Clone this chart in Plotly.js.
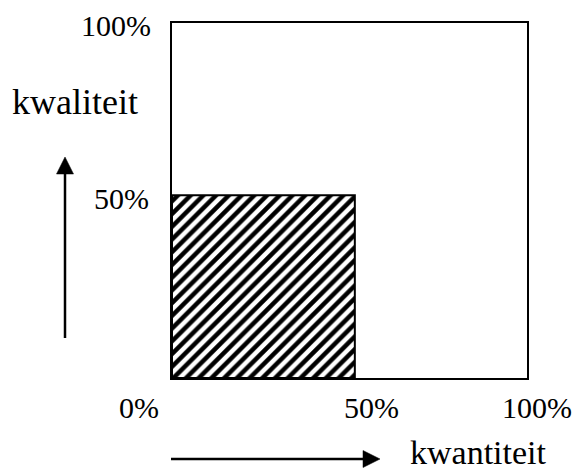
<!DOCTYPE html>
<html>
<head>
<meta charset="utf-8">
<script src="https://cdn.plot.ly/plotly-3.0.1.min.js"></script>
<style>
  html, body { margin: 0; padding: 0; background: #ffffff; }
  #chart { width: 578px; height: 473px; }
</style>
</head>
<body>
<div id="chart"></div>
<script>
// Data
const quantityShare = [51.5];   // hatched block width (kwantiteit, % of box)
const qualityShare  = [51.5];   // hatched block height (kwaliteit, % of box)
const xTickText = ['0%', '50%', '100%'];
const yTickText = ['50%', '100%'];
const xAxisLabel = 'kwantiteit';
const yAxisLabel = 'kwaliteit';

const FONT = 'Liberation Serif';
const numFont = { family: FONT, size: 30, color: '#000' };
const wordFont = { family: FONT, size: 36, color: '#000' };
const bottomWordFont = { family: FONT, size: 34, color: '#000' };

// box in pixels: left 172, right 527, top 23, bottom 378
const W = 578, H = 473, L = 172, R = 527, T = 23, B = 378;
const px = v => (v - L) / (R - L);
const py = v => (B - v) / (B - T);

const trace = {
  type: 'bar',
  x: [0],
  y: qualityShare,
  width: quantityShare,
  offset: 0,
  marker: {
    color: '#ffffff',
    line: { color: '#000', width: 2 },
    pattern: { shape: '/', size: 9, solidity: 0.5, fgcolor: '#000', bgcolor: '#ffffff' }
  },
  hoverinfo: 'skip',
  showlegend: false
};

const annotations = [
  { text: yTickText[1], x: px(153), y: py(26), xanchor: 'right', yanchor: 'middle' , font: numFont},
  { text: yTickText[0], x: px(151), y: py(198), xanchor: 'right', yanchor: 'middle', font: numFont },
  { text: xTickText[0], x: px(139), y: py(408), xanchor: 'center', yanchor: 'middle', font: numFont },
  { text: xTickText[1], x: px(371), y: py(408), xanchor: 'center', yanchor: 'middle', font: numFont },
  { text: xTickText[2], x: px(537), y: py(408), xanchor: 'center', yanchor: 'middle', font: numFont },
  { text: yAxisLabel, x: px(10), y: py(102), xanchor: 'left', yanchor: 'middle', font: wordFont },
  { text: xAxisLabel, x: px(408), y: py(452), xanchor: 'left', yanchor: 'middle', font: bottomWordFont }
].map(a => Object.assign({ xref: 'paper', yref: 'paper', showarrow: false }, a));

const shapes = [
  // vertical arrow
  { type: 'line', xref: 'paper', yref: 'paper', x0: px(65), x1: px(65), y0: py(338), y1: py(172),
    line: { color: '#000', width: 2.5 } },
  { type: 'path', xref: 'paper', yref: 'paper',
    path: `M ${px(56.5)} ${py(174)} L ${px(73.5)} ${py(174)} L ${px(65)} ${py(157)} Z`,
    fillcolor: '#000', line: { color: '#000', width: 0.5 } },
  // horizontal arrow
  { type: 'line', xref: 'paper', yref: 'paper', x0: px(171), x1: px(364), y0: py(459), y1: py(459),
    line: { color: '#000', width: 2.5 } },
  { type: 'path', xref: 'paper', yref: 'paper',
    path: `M ${px(363)} ${py(450.5)} L ${px(363)} ${py(467.5)} L ${px(380)} ${py(459)} Z`,
    fillcolor: '#000', line: { color: '#000', width: 0.5 } }
];

const axisCommon = {
  range: [0, 100],
  showline: true, mirror: true, linecolor: '#000', linewidth: 2,
  showgrid: false, zeroline: false, showticklabels: false, ticks: '',
  fixedrange: true
};

const layout = {
  width: W, height: H,
  font: { family: FONT, color: '#000' },
  margin: { l: L, r: W - R, t: T, b: H - B, pad: 0 },
  paper_bgcolor: '#ffffff', plot_bgcolor: '#ffffff',
  xaxis: Object.assign({}, axisCommon),
  yaxis: Object.assign({}, axisCommon),
  bargap: 0,
  showlegend: false,
  annotations: annotations,
  shapes: shapes
};

Plotly.newPlot('chart', [trace], layout, { displayModeBar: false, staticPlot: true });
</script>
</body>
</html>
